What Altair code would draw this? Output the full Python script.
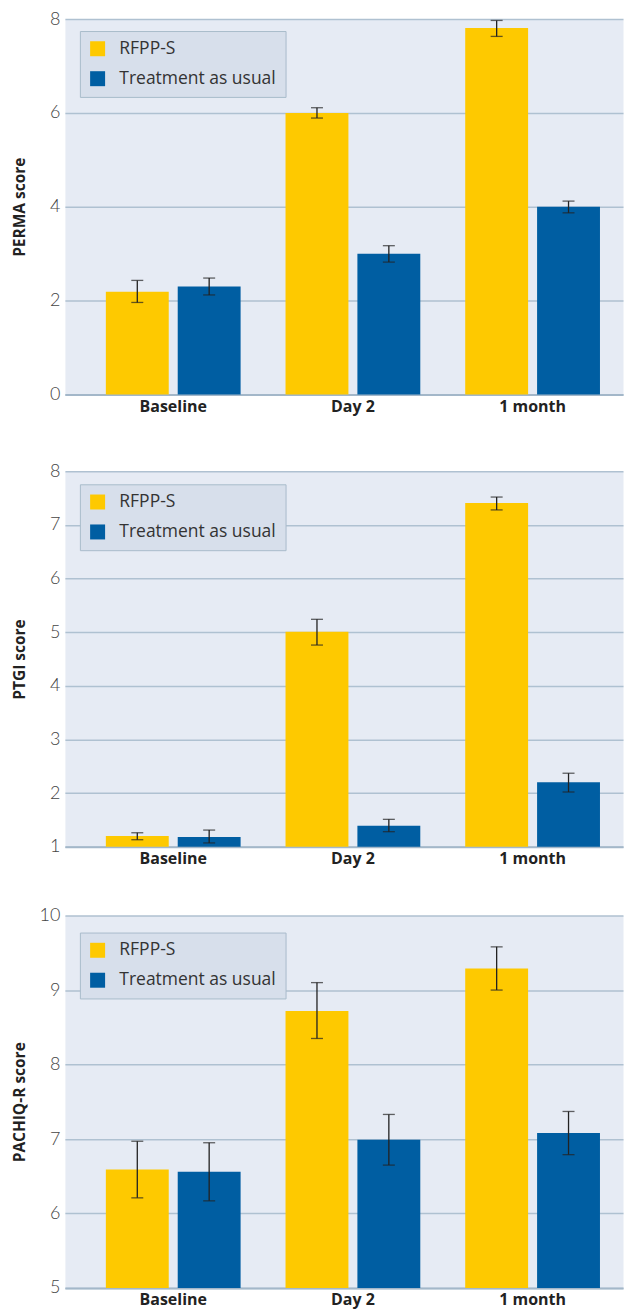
import altair as alt
import pandas as pd

times = ["Baseline", "Day 2", "1 month"]
groups = ["RFPP-S", "Treatment as usual"]

# PERMA score
perma_rfpp = [2.19, 6.00, 7.81]
perma_rfpp_lo = [1.96, 5.89, 7.63]
perma_rfpp_hi = [2.43, 6.11, 7.97]
perma_tau = [2.30, 3.00, 4.00]
perma_tau_lo = [2.12, 2.82, 3.87]
perma_tau_hi = [2.48, 3.17, 4.12]

# PTGI score
ptgi_rfpp = [1.20, 5.01, 7.41]
ptgi_rfpp_lo = [1.13, 4.76, 7.28]
ptgi_rfpp_hi = [1.26, 5.24, 7.52]
ptgi_tau = [1.18, 1.39, 2.20]
ptgi_tau_lo = [1.07, 1.28, 2.02]
ptgi_tau_hi = [1.31, 1.51, 2.37]

# PACHIQ-R score
pachiq_rfpp = [6.59, 8.72, 9.29]
pachiq_rfpp_lo = [6.21, 8.35, 9.00]
pachiq_rfpp_hi = [6.97, 9.10, 9.58]
pachiq_tau = [6.56, 6.99, 7.08]
pachiq_tau_lo = [6.17, 6.65, 6.79]
pachiq_tau_hi = [6.95, 7.33, 7.37]

YELLOW = "#FEC900"
BLUE = "#005EA2"
FONT = "Open Sans"


def make_df(rf, rf_lo, rf_hi, tu, tu_lo, tu_hi):
    rows = []
    for i, t in enumerate(times):
        rows.append({"time": t, "group": groups[0], "mean": rf[i], "lo": rf_lo[i], "hi": rf_hi[i]})
        rows.append({"time": t, "group": groups[1], "mean": tu[i], "lo": tu_lo[i], "hi": tu_hi[i]})
    return pd.DataFrame(rows)


def panel(d, title, domain, ticks, height, ly):
    x = alt.X(
        "time:N", sort=times,
        scale=alt.Scale(paddingInner=0.25, paddingOuter=0.178, align=0.64),
        axis=alt.Axis(title=None, labelAngle=0, labelFont=FONT, labelFontWeight="bold",
                      labelFontSize=16, labelColor="#222222", ticks=False, domain=True,
                      domainColor="#A3B7C9", domainWidth=2, labelPadding=4, grid=False),
    )
    xo = alt.XOffset("group:N", sort=groups, scale=alt.Scale(paddingInner=0.125, paddingOuter=0))
    y = alt.Y(
        "mean:Q",
        scale=alt.Scale(domain=domain, nice=False, zero=False),
        axis=alt.Axis(values=ticks, format="d", title=title, grid=True, gridColor="#AFC1D1",
                      gridWidth=1.5, domain=False, ticks=False, labelFont="Lato",
                      labelFontSize=18, labelFontWeight=300, labelColor="#444444",
                      labelPadding=5, titleFont=FONT, titleFontSize=15.5,
                      titleFontWeight="bold", titleColor="#222222", titleX=-45,
                      titleBaseline="middle"),
    )
    color = alt.Color(
        "group:N", sort=groups,
        scale=alt.Scale(domain=groups, range=[YELLOW, BLUE]),
        legend=alt.Legend(title=None, orient="none", legendX=15, legendY=ly, direction="vertical",
                          fillColor="#D7DFEB", strokeColor="#A9BCCB", padding=9,
                          symbolType="square", symbolSize=225, symbolStrokeWidth=0,
                          labelFont=FONT, labelFontSize=17.5, labelColor="#333333",
                          rowPadding=11, labelOffset=13),
    )
    base = alt.Chart(d)
    bars = base.mark_bar().encode(x=x, xOffset=xo, y=y, y2=alt.datum(domain[0]), color=color)
    rules = base.mark_rule(color="#222222", strokeWidth=1.3).encode(
        x=x, xOffset=xo, y="lo:Q", y2="hi:Q")
    cap_lo = base.mark_tick(color="#222222", size=12, thickness=1.3).encode(x=x, xOffset=xo, y="lo:Q")
    cap_hi = base.mark_tick(color="#222222", size=12, thickness=1.3).encode(x=x, xOffset=xo, y="hi:Q")
    return alt.layer(bars, rules, cap_lo, cap_hi).properties(width=559, height=height)


p1 = panel(make_df(perma_rfpp, perma_rfpp_lo, perma_rfpp_hi, perma_tau, perma_tau_lo, perma_tau_hi),
           "PERMA score", [0, 8], [0, 2, 4, 6, 8], 376, 12)
p2 = panel(make_df(ptgi_rfpp, ptgi_rfpp_lo, ptgi_rfpp_hi, ptgi_tau, ptgi_tau_lo, ptgi_tau_hi),
           "PTGI score", [1, 8], [1, 2, 3, 4, 5, 6, 7, 8], 376, 13)
p3 = panel(make_df(pachiq_rfpp, pachiq_rfpp_lo, pachiq_rfpp_hi, pachiq_tau, pachiq_tau_lo, pachiq_tau_hi),
           "PACHIQ-R score", [5, 10], [5, 6, 7, 8, 9, 10], 373, 17)

top = alt.vconcat(p1, p2, spacing=46).resolve_legend(color="independent").resolve_scale(y="independent")
chart = (
    alt.vconcat(top, p3, spacing=38)
    .resolve_legend(color="independent")
    .resolve_scale(y="independent")
    .properties(padding={"left": 4, "top": 0, "right": 0, "bottom": 0})
    .configure_view(fill="#E6EBF4", stroke="transparent")
)

chart.save("out.html", embed_options={"renderer": "svg", "actions": False})
